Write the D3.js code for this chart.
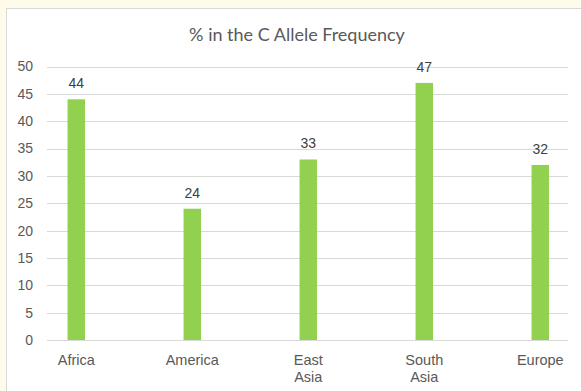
<!DOCTYPE html>
<html>
<head>
<meta charset="utf-8">
<script src="https://cdn.jsdelivr.net/npm/d3@7"></script>
<style>
  html, body { margin: 0; padding: 0; background: #fffbea; }
  #chart { width: 581px; height: 391px; }
  text { font-family: "Liberation Sans", Arial, sans-serif; }
</style>
</head>
<body>
<div id="chart"></div>
<script>
const regions = ["Africa", "America", "East Asia", "South Asia", "Europe"];
const values = [44, 24, 33, 47, 32];
const yTicks = [0, 5, 10, 15, 20, 25, 30, 35, 40, 45, 50];
const title = "% in the C Allele Frequency";

const width = 581, height = 391;
const svg = d3.select("#chart").append("svg")
  .attr("width", width)
  .attr("height", height);

// white chart panel
svg.append("rect")
  .attr("x", 6.5).attr("y", 8.5)
  .attr("width", width).attr("height", height)
  .attr("fill", "#fff")
  .attr("stroke", "#d9d9d9");

const x = d3.scaleBand().domain(regions).range([18.3, 598.3]);
const y = d3.scaleLinear().domain([0, 50]).range([340, 66.5]);
const gridL = 47, gridR = 568;

svg.append("text")
  .attr("x", 297).attr("y", 41)
  .attr("text-anchor", "middle")
  .attr("fill", "#595959")
  .style("font-family", "Lato, 'Open Sans', sans-serif")
  .style("font-size", "18px")
  .text(title);

// gridlines
svg.append("g").selectAll("line")
  .data(yTicks)
  .join("line")
  .attr("x1", gridL).attr("x2", gridR)
  .attr("y1", (d) => Math.round(y(d)) + 0.5)
  .attr("y2", (d) => Math.round(y(d)) + 0.5)
  .attr("stroke", "#d9d9d9");

// y labels
svg.append("g").selectAll("text")
  .data(yTicks)
  .join("text")
  .attr("x", 33)
  .attr("y", (d) => y(d))
  .attr("dy", "0.35em")
  .attr("text-anchor", "end")
  .attr("fill", "#595959")
  .style("font-size", "14px")
  .text((d) => d);

const barW = 17.5;
svg.append("g").selectAll("rect")
  .data(values)
  .join("rect")
  .attr("x", (d, i) => x(regions[i]) + x.bandwidth() / 2 - barW / 2)
  .attr("y", (d) => y(d))
  .attr("width", barW)
  .attr("height", (d) => y(0) - y(d))
  .attr("fill", "#92d050");

// value labels
svg.append("g").selectAll("text")
  .data(values)
  .join("text")
  .attr("x", (d, i) => x(regions[i]) + x.bandwidth() / 2)
  .attr("y", (d) => y(d) - 11)
  .attr("text-anchor", "middle")
  .attr("fill", "#404040")
  .style("font-size", "14px")
  .text((d) => d);

// category labels
const cat = svg.append("g").selectAll("text")
  .data(regions)
  .join("text")
  .attr("x", (d) => x(d) + x.bandwidth() / 2)
  .attr("y", 365)
  .attr("text-anchor", "middle")
  .attr("fill", "#595959")
  .style("font-size", "14.5px");
cat.each(function (d) {
  const words = d.split(" ");
  d3.select(this).selectAll("tspan")
    .data(words)
    .join("tspan")
    .attr("x", x(d) + x.bandwidth() / 2)
    .attr("dy", (w, i) => (i === 0 ? 0 : 17))
    .text((w) => w);
});
</script>
</body>
</html>
